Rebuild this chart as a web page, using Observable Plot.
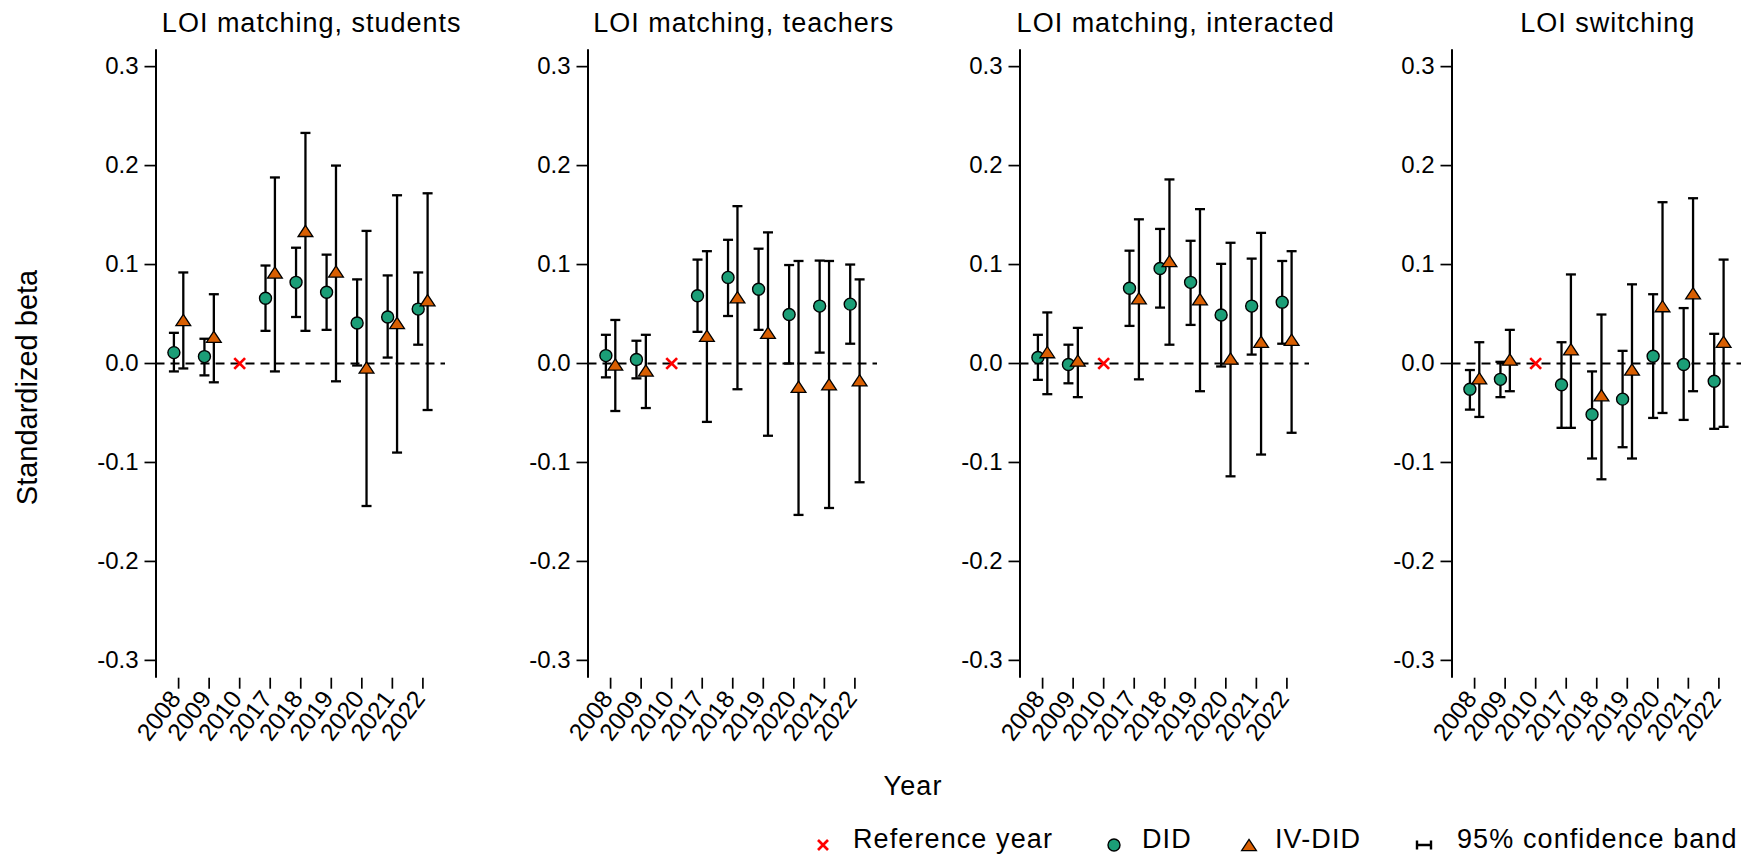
<!DOCTYPE html>
<html>
<head>
<meta charset="utf-8">
<script src="https://cdn.jsdelivr.net/npm/d3@7"></script>
<script src="https://cdn.jsdelivr.net/npm/@observablehq/plot@0.6"></script>
<style>
  body { margin: 0; background: #fff; }
  #root { position: relative; width: 1751px; height: 860px; overflow: hidden; background: #fff;
          font-family: "Liberation Sans", Arial, sans-serif; }
</style>
</head>
<body>
<div id="root"></div>
<script>
// ---------------- data ----------------
const years = ["2008", "2009", "2010", "2017", "2018", "2019", "2020", "2021", "2022"];
const panelTitles = ["LOI matching, students", "LOI matching, teachers", "LOI matching, interacted", "LOI switching"];
const refYear = "2010";
const refValue = 0;
const yTicks = [-0.3, -0.2, -0.1, 0, 0.1, 0.2, 0.3];
const legendLabels = ["Reference year", "DID", "IV-DID", "95% confidence band"];
const xLabel = "Year";
const yLabel = "Standardized beta";

// LOI matching, students
const studentsDidEst = [0.011, 0.007, null, 0.066, 0.082, 0.072, 0.041, 0.047, 0.055];
const studentsDidLo  = [-0.008, -0.012, null, 0.033, 0.047, 0.034, -0.002, 0.006, 0.019];
const studentsDidHi  = [0.031, 0.025, null, 0.099, 0.117, 0.110, 0.085, 0.089, 0.092];
const studentsIvEst  = [0.044, 0.027, null, 0.092, 0.134, 0.093, -0.004, 0.041, 0.064];
const studentsIvLo   = [-0.005, -0.019, null, -0.008, 0.033, -0.018, -0.144, -0.090, -0.047];
const studentsIvHi   = [0.092, 0.070, null, 0.188, 0.233, 0.200, 0.134, 0.170, 0.172];

// LOI matching, teachers
const teachersDidEst = [0.008, 0.004, null, 0.0685, 0.087, 0.075, 0.0495, 0.058, 0.060];
const teachersDidLo  = [-0.014, -0.015, null, 0.032, 0.048, 0.034, 0.000, 0.011, 0.020];
const teachersDidHi  = [0.029, 0.023, null, 0.105, 0.125, 0.116, 0.0995, 0.104, 0.100];
const teachersIvEst  = [-0.001, -0.007, null, 0.028, 0.067, 0.031, -0.0235, -0.021, -0.017];
const teachersIvLo   = [-0.048, -0.045, null, -0.059, -0.026, -0.073, -0.153, -0.146, -0.120];
const teachersIvHi   = [0.044, 0.029, null, 0.1135, 0.159, 0.1325, 0.1036, 0.1036, 0.085];

// LOI matching, interacted
const interactedDidEst = [0.006, -0.001, null, 0.076, 0.096, 0.082, 0.049, 0.058, 0.062];
const interactedDidLo  = [-0.0165, -0.020, null, 0.038, 0.0565, 0.039, -0.003, 0.009, 0.020];
const interactedDidHi  = [0.029, 0.019, null, 0.114, 0.136, 0.124, 0.1007, 0.106, 0.1036];
const interactedIvEst  = [0.0115, 0.003, null, 0.066, 0.1036, 0.065, 0.005, 0.022, 0.024];
const interactedIvLo   = [-0.031, -0.034, null, -0.016, 0.019, -0.028, -0.114, -0.092, -0.070];
const interactedIvHi   = [0.0516, 0.036, null, 0.1457, 0.186, 0.156, 0.122, 0.132, 0.1135];

// LOI switching
const switchingDidEst = [-0.026, -0.016, null, -0.0215, -0.0516, -0.036, 0.0074, -0.001, -0.018];
const switchingDidLo  = [-0.0466, -0.034, null, -0.065, -0.096, -0.0846, -0.055, -0.057, -0.066];
const switchingDidHi  = [-0.0066, 0.0017, null, 0.0215, -0.008, 0.0128, 0.070, 0.056, 0.030];
const switchingIvEst  = [-0.015, 0.004, null, 0.0144, -0.032, -0.006, 0.058, 0.071, 0.022];
const switchingIvLo   = [-0.054, -0.028, null, -0.065, -0.117, -0.096, -0.050, -0.028, -0.064];
const switchingIvHi   = [0.0215, 0.034, null, 0.090, 0.0495, 0.080, 0.163, 0.167, 0.105];

// ---------------- styling ----------------
const GREEN = "#1b9e77";
const ORANGE = "#d95f02";
const FONT = "'Liberation Sans', Arial, Helvetica, sans-serif";

const panels = [
  { did: [studentsDidEst, studentsDidLo, studentsDidHi], iv: [studentsIvEst, studentsIvLo, studentsIvHi] },
  { did: [teachersDidEst, teachersDidLo, teachersDidHi], iv: [teachersIvEst, teachersIvLo, teachersIvHi] },
  { did: [interactedDidEst, interactedDidLo, interactedDidHi], iv: [interactedIvEst, interactedIvLo, interactedIvHi] },
  { did: [switchingDidEst, switchingDidLo, switchingDidHi], iv: [switchingIvEst, switchingIvLo, switchingIvHi] }
];

function rows(est, lo, hi) {
  return years.map((year, i) => ({ year, i, est: est[i], lo: lo[i], hi: hi[i] }))
              .filter(d => d.est != null);
}

// custom symbols
const capSymbol = { draw(ctx, size) { const r = Math.sqrt(size / Math.PI); ctx.moveTo(-r, 0); ctx.lineTo(r, 0); } };
const triSymbol = { draw(ctx, size) { const r = Math.sqrt(size / Math.PI); const h = r * 0.76;
  ctx.moveTo(0, -h); ctx.lineTo(r, h); ctx.lineTo(-r, h); ctx.closePath(); } };
const timesSymbol = { draw(ctx, size) { const r = Math.sqrt(size / Math.PI);
  ctx.moveTo(-r, -r); ctx.lineTo(r, r); ctx.moveTo(-r, r); ctx.lineTo(r, -r); } };

const xDomain = [-0.74, years.length - 1 + 0.74];
const yDomain = [-0.318, 0.317];
const OFF = 4.7; // px offset between DID and IV-DID
const BAR_W = 2.3;

const root = document.getElementById("root");

panels.forEach((p, k) => {
  const did = rows(...p.did);
  const iv = rows(...p.iv);
  const ref = [{ i: years.indexOf(refYear), v: refValue }];
  const svg = Plot.plot({
    width: 415,
    height: 760,
    marginLeft: 115.5,
    marginRight: 10,
    marginTop: 49.3,
    marginBottom: 82.3,
    x: { type: "linear", domain: xDomain },
    y: { domain: yDomain },
    style: { fontFamily: FONT, fontSize: "24px", color: "#000", background: "transparent", overflow: "visible" },
    marks: [
      Plot.ruleX([xDomain[0]], { stroke: "#000", strokeWidth: 2 }),
      Plot.axisY({ ticks: yTicks, tickFormat: d => d.toFixed(1), tickSize: 11, tickPadding: 6.5,
                   strokeWidth: 1.7, fontSize: 24, label: null }),
      Plot.axisX({ ticks: years.map((_, i) => i), tickFormat: () => "", tickSize: 11,
                   strokeWidth: 1.7, label: null }),
      Plot.axisX({ ticks: years.map((_, i) => i), tickFormat: i => years[i], tickSize: 0, tickPadding: 16,
                   tickRotate: -53, textAnchor: "end", lineAnchor: "middle", dx: -3, fontSize: 24.5, label: null }),
      Plot.ruleY([refValue], { stroke: "#000", strokeWidth: 1.8, strokeDasharray: "9,6" }),
      // error bars
      Plot.ruleX(did, { x: "i", y1: "lo", y2: "hi", dx: -OFF, stroke: "#000", strokeWidth: BAR_W }),
      Plot.dot(did, { x: "i", y: "hi", dx: -OFF, symbol: capSymbol, r: 5, stroke: "#000", strokeWidth: BAR_W, fill: "none" }),
      Plot.dot(did, { x: "i", y: "lo", dx: -OFF, symbol: capSymbol, r: 5, stroke: "#000", strokeWidth: BAR_W, fill: "none" }),
      Plot.ruleX(iv, { x: "i", y1: "lo", y2: "hi", dx: OFF, stroke: "#000", strokeWidth: BAR_W }),
      Plot.dot(iv, { x: "i", y: "hi", dx: OFF, symbol: capSymbol, r: 5, stroke: "#000", strokeWidth: BAR_W, fill: "none" }),
      Plot.dot(iv, { x: "i", y: "lo", dx: OFF, symbol: capSymbol, r: 5, stroke: "#000", strokeWidth: BAR_W, fill: "none" }),
      // markers
      Plot.dot(did, { x: "i", y: "est", dx: -OFF, r: 6, fill: GREEN, stroke: "#000", strokeWidth: 1.4 }),
      Plot.dot(iv, { x: "i", y: "est", dx: OFF, symbol: triSymbol, r: 7.4, fill: ORANGE, stroke: "#000", strokeWidth: 1.3 }),
      Plot.dot(ref, { x: "i", y: "v", symbol: timesSymbol, r: 5.4, stroke: "red", strokeWidth: 2.7, fill: "none" })
    ]
  });
  svg.style.position = "absolute";
  svg.style.left = (40 + 432 * k) + "px";
  svg.style.top = "0px";
  root.appendChild(svg);
});

// ---------------- overlay texts & legend ----------------
const ov = d3.select(root).append("svg")
  .attr("width", 1751).attr("height", 860)
  .style("position", "absolute").style("left", "0px").style("top", "0px")
  .style("font-family", FONT).style("overflow", "visible");

panelTitles.forEach((t, k) => {
  ov.append("text")
    .attr("x", 311.7 + 432 * k).attr("y", 32.3)
    .attr("text-anchor", "middle")
    .attr("font-size", 27).attr("letter-spacing", 1)
    .attr("fill", "#000")
    .text(t);
});

ov.append("text")
  .attr("transform", "translate(36.5,387.5) rotate(-90)")
  .attr("text-anchor", "middle")
  .attr("font-size", 29).attr("fill", "#000")
  .text(yLabel);

ov.append("text")
  .attr("x", 913).attr("y", 795)
  .attr("text-anchor", "middle")
  .attr("font-size", 27).attr("letter-spacing", 1.1).attr("fill", "#000")
  .text(xLabel);

// legend
const LY = 848;      // text baseline
const IY = 845;      // icon centre
const legendX = [823, 1114, 1249, 1424];
const legendTextX = [853, 1142, 1275, 1457];

const g = ov.append("g");
g.append("path")
  .attr("d", `M${legendX[0]-5},${IY-5}L${legendX[0]+5},${IY+5}M${legendX[0]-5},${IY+5}L${legendX[0]+5},${IY-5}`)
  .attr("stroke", "red").attr("stroke-width", 2.7).attr("fill", "none");
g.append("circle").attr("cx", legendX[1]).attr("cy", IY).attr("r", 6)
  .attr("fill", GREEN).attr("stroke", "#000").attr("stroke-width", 1.4);
g.append("path")
  .attr("d", `M${legendX[2]},${IY-5.6}L${legendX[2]+7.4},${IY+5.6}L${legendX[2]-7.4},${IY+5.6}Z`)
  .attr("fill", ORANGE).attr("stroke", "#000").attr("stroke-width", 1.3);
g.append("path")
  .attr("d", `M${legendX[3]-7},${IY}L${legendX[3]+7},${IY}M${legendX[3]-7},${IY-4.5}L${legendX[3]-7},${IY+4.5}M${legendX[3]+7},${IY-4.5}L${legendX[3]+7},${IY+4.5}`)
  .attr("stroke", "#000").attr("stroke-width", 2.4).attr("fill", "none");

legendLabels.forEach((t, i) => {
  g.append("text")
    .attr("x", legendTextX[i]).attr("y", LY)
    .attr("font-size", 27).attr("letter-spacing", 1.1).attr("fill", "#000")
    .text(t);
});
</script>
</body>
</html>
